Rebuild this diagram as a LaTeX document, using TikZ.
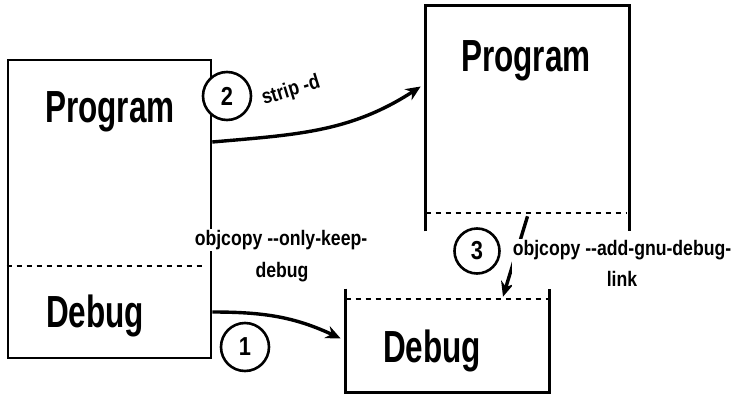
\documentclass[tikz,border=0pt]{standalone}
\usepackage{fontspec}
\setmainfont{Liberation Sans}
\newfontfamily\partfont{Liberation Sans}[FakeStretch=0.7]
\newfontfamily\cmdfont{Liberation Sans}[FakeStretch=0.84]
\usetikzlibrary{arrows.meta}

\begin{document}
\begin{tikzpicture}[x=1pt,y=-1pt,line width=2.6pt,
  part/.style={font=\partfont\bfseries\fontsize{45}{45}\selectfont},
  cmd/.style={font=\cmdfont\bfseries\fontsize{21}{31}\selectfont,inner sep=1pt,align=center},
  num/.style={circle,draw,fill=white,minimum size=48pt,inner sep=0pt,font=\cmdfont\bfseries\fontsize{26}{26}\selectfont},
  flow/.style={line width=3.4pt,-{Stealth[length=15pt,width=13pt]}},
  cut/.style={line width=2.2pt,dash pattern=on 5pt off 5pt}]
\useasboundingbox (0,0) rectangle (737,394);
\node[draw,minimum width=203pt,minimum height=298pt] (left) at (109.5,209) {};
\node[minimum width=201pt,minimum height=223pt] (rtop) at (527.5,118.5) {};
\node[minimum width=201pt,minimum height=101pt] (dbox) at (447.5,340.5) {};
\draw (rtop.south west) |- (rtop.north east) -- (rtop.south east);
\draw (dbox.north west) |- (dbox.south east) -- (dbox.north east);
\draw[cut] ([yshift=93pt]left.south west) -- ([yshift=93pt,xshift=-6pt]left.south east);
\draw[cut] ([yshift=18pt]rtop.south west) -- ([yshift=18pt,xshift=-3pt]rtop.south east);
\draw[cut] ([yshift=-10pt]dbox.north west) -- ([yshift=-10pt]dbox.north east);
\node[part] (lprog) at (110,112) {Program};
\node[part] (ldebug) at (95,316) {Debug};
\node[part] (rprog) at (526,61) {Program};
\node[part] (rdebug) at (432,351) {Debug};
\coordinate (strip0) at ([yshift=67pt]left.east);
\coordinate (strip1) at ([yshift=32pt,xshift=-5pt]rtop.west);
\coordinate (keep0) at ([yshift=-103pt]left.east);
\coordinate (keep1) at ([yshift=2pt,xshift=-5pt]dbox.west);
\coordinate (link0) at ([yshift=15pt]rtop.south);
\coordinate (link1) at ([xshift=55.5pt,yshift=-8pt]dbox.north);
\draw[flow] (strip0) to[out=5,in=213] (strip1);
\draw[flow] (keep0) to[out=0,in=155] (keep1);
\draw[flow] (link0) -- (link1);
\node[cmd,rotate=17] (strip) at (291,91) {strip -d};
\node[cmd,fill=white] (keep) at (281,240) {objcopy --only-keep-};
\node[cmd] (keep2) at (282,272) {debug};
\node[cmd,fill=white] (link) at (622,263) {objcopy --add-gnu-debug-\\link};
\node[num] (n2) at (227,96) {2};
\node[num] (n1) at (245,347) {1};
\node[num,minimum size=45pt] (n3) at (477,251) {3};
\end{tikzpicture}
\end{document}
